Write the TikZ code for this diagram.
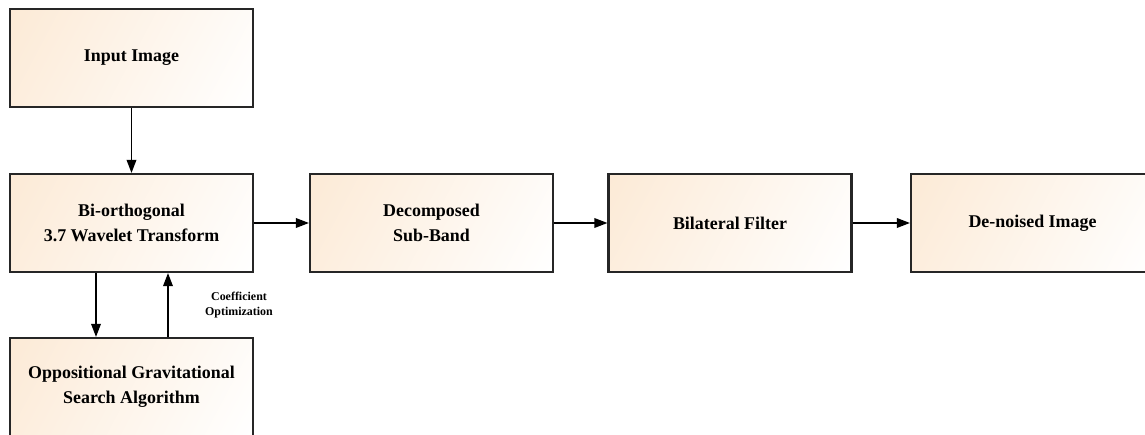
\documentclass[tikz,border=0pt]{standalone}
\usepackage{fontspec}
\setmainfont{Liberation Serif}
\usetikzlibrary{arrows.meta}
\definecolor{peach}{RGB}{252,234,214}
\tikzset{
  % box filled with a diagonal peach-to-white gradient
  stepbox/.style={draw=black!85, line width=1.2pt, minimum width=4.86cm, minimum height=1.96cm,
    align=center, font=\bfseries\fontsize{10.2}{14}\selectfont,
    path picture={
      \shade[left color=peach, middle color=white, right color=white, shading angle=62]
        ([shift={(-2.6cm,-2.6cm)}]path picture bounding box.center)
        rectangle ([shift={(2.6cm,2.6cm)}]path picture bounding box.center);}},
  arr/.style={line width=0.9pt, -{Triangle[length=7.5pt,width=5.5pt]}},
  lbl/.style={align=center, font=\bfseries\fontsize{6.8}{9}\selectfont}
}
\begin{document}
\begin{tikzpicture}[x=0.02cm,y=-0.02cm]
\useasboundingbox (0,0) rectangle (1145,435);
\node[stepbox] (in)  at (131.5,58)  {Input Image};
\node[stepbox] (bwt) at (131.5,223) {Bi-orthogonal\\3.7 Wavelet Transform};
\node[stepbox] (dsb) at (431.5,223) {Decomposed\\Sub-Band};
\node[stepbox] (bf)  at (730,223)   {Bilateral Filter};
\node[stepbox] (dn)  at (1032.5,223) {De-noised Image};
\node[stepbox] (og)  at (131.5,387) {Oppositional Gravitational\\Search Algorithm};
\node[lbl] (co) at (239,305) {Coefficient\\Optimization};
\draw[arr] (in) -- (bwt);
\draw[arr] (bwt) -- (dsb);
\draw[arr] (dsb) -- (bf);
\draw[arr] (bf) -- (dn);
\draw[arr] ([xshift=-0.71cm]bwt.south) -- ([xshift=-0.71cm]og.north);
\draw[arr] ([xshift=0.73cm]og.north) -- ([xshift=0.73cm]bwt.south);
\end{tikzpicture}
\end{document}
